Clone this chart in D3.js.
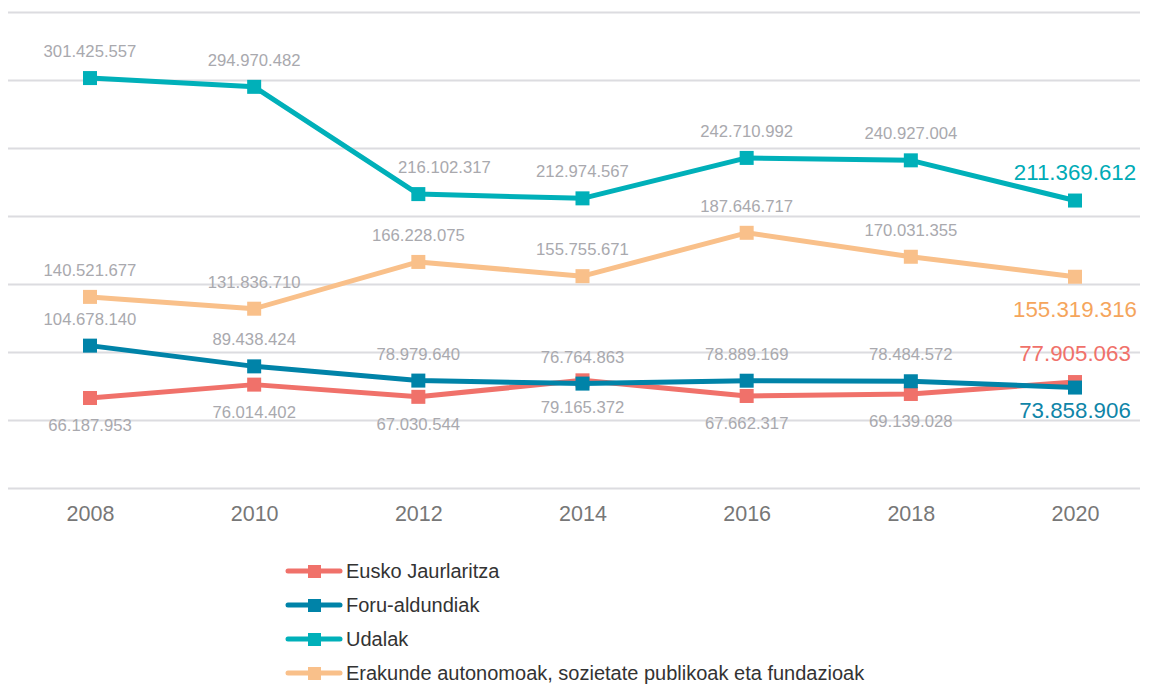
<!DOCTYPE html>
<html>
<head>
<meta charset="utf-8">
<script src="https://cdn.jsdelivr.net/npm/d3@7"></script>
<style>
  body { margin: 0; background: #fff; }
  svg { display: block; font-family: "Liberation Sans", Arial, sans-serif; }
</style>
</head>
<body>
<svg id="chart" width="1152" height="684"></svg>
<script>
// data
var years = ["2008", "2010", "2012", "2014", "2016", "2018", "2020"];
var seriesNames = ["Eusko Jaurlaritza", "Foru-aldundiak", "Udalak", "Erakunde autonomoak, sozietate publikoak eta fundazioak"];
var euskoJaurlaritza = [66187953, 76014402, 67030544, 79165372, 67662317, 69139028, 77905063];
var foruAldundiak = [104678140, 89438424, 78979640, 76764863, 78889169, 78484572, 73858906];
var udalak = [301425557, 294970482, 216102317, 212974567, 242710992, 240927004, 211369612];
var erakundeAutonomoak = [140521677, 131836710, 166228075, 155755671, 187646717, 170031355, 155319316];
var yTicks = [0, 50e6, 100e6, 150e6, 200e6, 250e6, 300e6, 350e6];

var colors = ["#f0716a", "#0083a8", "#00b0b9", "#f9c08a"];
var lastColors = ["#f0716a", "#0f85a8", "#00abb6", "#f5a55c"];
// label placement: 1 = above, -1 = below (last point separate)
var labelSide = [-1, 1, 1, 1];
var lastSide = [1, -1, 1, -1];

var margin_left = 8, margin_right = 1140, top_y = 12, bottom_y = 488;

var svg = d3.select("#chart");

var x = d3.scalePoint()
    .domain(years)
    .range([90, 1075]);

var y = d3.scaleLinear()
    .domain([0, 350e6])
    .range([bottom_y, top_y]);

//Grid
svg.append("g").selectAll("line")
    .data(yTicks)
    .enter().append("line")
    .attr("x1", margin_left)
    .attr("x2", margin_right)
    .attr("y1", function(d){ return Math.round(y(d)) + 0.5; })
    .attr("y2", function(d){ return Math.round(y(d)) + 0.5; })
    .style("stroke", "#dcdce0")
    .style("stroke-width", "2px");

//X axis labels
var xAxis = svg.append("g")
    .attr("transform", "translate(0," + bottom_y + ")")
    .call(d3.axisBottom(x).tickSize(0).tickPadding(18));
xAxis.select(".domain").remove();
xAxis.selectAll("text")
    .attr("font-size", 21.5)
    .attr("font-family", "Liberation Sans, Arial, sans-serif")
    .attr("fill", "#777");

var allSeries = [euskoJaurlaritza, foruAldundiak, udalak, erakundeAutonomoak];
var line = d3.line()
    .x(function(d, i){ return x(years[i]); })
    .y(function(d){ return y(d); });

var fmt = function(v){ return d3.format(",")(v).replace(/,/g, "."); };

//Lines and markers
allSeries.forEach(function(vals, s){
    var g = svg.append("g");
    g.append("path")
        .datum(vals)
        .attr("d", line)
        .attr("fill", "none")
        .attr("stroke", colors[s])
        .attr("stroke-width", 5)
        .attr("stroke-linejoin", "round");
    g.selectAll("rect")
        .data(vals)
        .enter().append("rect")
        .attr("x", function(d, i){ return x(years[i]) - 7; })
        .attr("y", function(d){ return y(d) - 7; })
        .attr("width", 14)
        .attr("height", 14)
        .attr("fill", colors[s]);
});

//Value labels
allSeries.forEach(function(vals, s){
    var n = vals.length;
    svg.append("g").selectAll("text")
        .data(vals)
        .enter().append("text")
        .text(function(d){ return fmt(d); })
        .attr("x", function(d, i){
            // udalak 2012 label nudged right, clear of the line
            return x(years[i]) + ((s == 2 && i == 2) ? 26 : 0);
        })
        .attr("y", function(d, i){
            if (i == n - 1) {
                return lastSide[s] > 0 ? y(d) - 21 : y(d) + (s == 3 ? 40 : 30);
            }
            return labelSide[s] > 0 ? y(d) - 21 : y(d) + 33;
        })
        .attr("text-anchor", "middle")
        .attr("font-size", function(d, i){ return i == n - 1 ? 22.3 : 16.7; })
        .attr("fill", function(d, i){ return i == n - 1 ? lastColors[s] : "#a9a9ae"; });
});

//Legend
var legend = svg.append("g");
seriesNames.forEach(function(name, s){
    var ly = 571 + s * 34;
    legend.append("line")
        .attr("x1", 288).attr("x2", 340)
        .attr("y1", ly).attr("y2", ly)
        .attr("stroke", colors[s])
        .attr("stroke-width", 5)
        .attr("stroke-linecap", "round");
    legend.append("rect")
        .attr("x", 308).attr("y", ly - 6)
        .attr("width", 13).attr("height", 13)
        .attr("fill", colors[s]);
    legend.append("text")
        .text(name)
        .attr("x", 346)
        .attr("y", ly + 7)
        .attr("font-size", 20)
        .attr("fill", "#333");
});
</script>
</body>
</html>
